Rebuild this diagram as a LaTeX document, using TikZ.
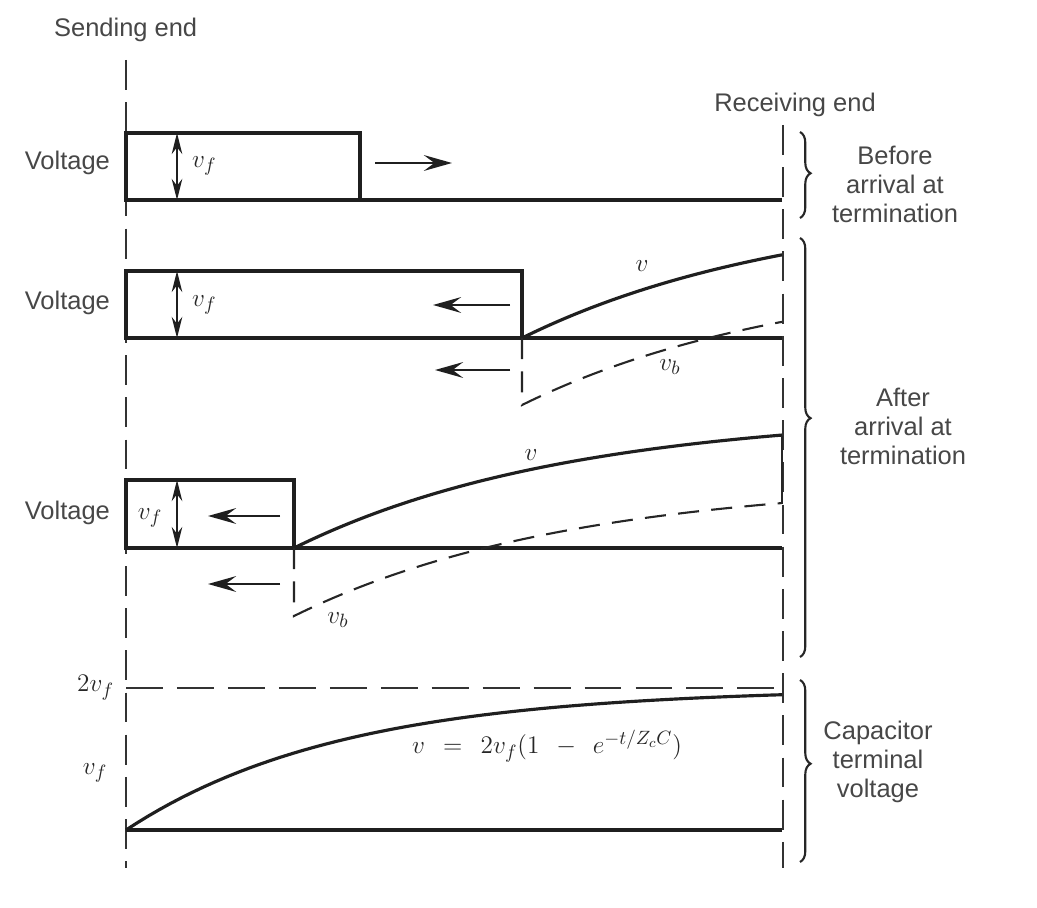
\documentclass[tikz,border=0pt]{standalone}
\usepackage{fontspec}
\setsansfont{Liberation Sans}
\usetikzlibrary{arrows.meta, decorations.pathreplacing, calc}

\begin{document}
\begin{tikzpicture}[
  x=0.02cm, y=-0.02cm,
  font=\sffamily\fontsize{14.5}{16.5}\selectfont,
  % text styles
  txt/.style={text=black!72, align=center, inner sep=1pt},
  lbl/.style={text=black!85, inner sep=1pt, font=\fontsize{15.5}{18}\selectfont},
  % line styles
  wave/.style={draw=black!88, line width=1.8pt, line join=miter},
  endline/.style={draw=black!80, line width=1.3pt, dash pattern=on 17pt off 7pt},
  twoline/.style={draw=black!80, line width=1.2pt, dash pattern=on 21pt off 8pt},
  refl/.style={draw=black!85, line width=1.2pt, dash pattern=on 12pt off 7pt},
  brc/.style={draw=black!85, line width=1.2pt, decorate},
  travel/.style={draw=black!88, line width=1.4pt, -{Stealth[length=16pt, width=9pt, inset=6pt]}},
  vfspan/.style={draw=black!88, line width=1.2pt, {Stealth[length=12pt, width=6pt]}-{Stealth[length=12pt, width=6pt]}}
]
  \useasboundingbox (0,0) rectangle (1037,908);

  % ==========================================
  % LINE ENDS
  % ==========================================
  \coordinate (send_top) at (126,60);
  \coordinate (send_bot) at (126,868);
  \coordinate (recv_top) at (783,125);
  \coordinate (recv_bot) at (783,868);
  \draw[endline] (send_top) -- (send_bot);
  \draw[endline] (recv_top) -- (recv_bot);

  \node[txt, anchor=west] (sending) at (52,30) {Sending end};
  \node[txt] (receiving) at (795,105) {Receiving end};

  % ==========================================
  % BEFORE ARRIVAL
  % ==========================================
  \coordinate (base1) at (126,200);
  \coordinate (front1) at (360,133);
  \draw[wave] (782,200) -- (base1) |- (front1) -- (front1 |- base1);
  \draw[vfspan] (177,133) -- (177,200);
  \node[lbl, anchor=west] (vf1) at (190,166) {$v_f$};
  \node[txt, anchor=east] (volt1) at (112,163) {Voltage};
  \coordinate (go1_a) at (375,163);
  \coordinate (go1_b) at (452,163);
  \draw[travel] (go1_a) -- (go1_b);

  % ==========================================
  % AFTER ARRIVAL (1)
  % ==========================================
  \coordinate (base2) at (126,338);
  \coordinate (front2) at (522,271);
  \draw[wave] (782,338) -- (base2) |- (front2) -- (front2 |- base2);
  \draw[wave] plot[domain=522:782, samples=50] (\x, {338-136*(1-exp(-(\x-522)/275))});
  \draw[refl] (front2 |- base2) -- (522,405) -- plot[domain=522:782, samples=50] (\x, {405-136*(1-exp(-(\x-522)/275))});
  \draw[vfspan] (177,271) -- (177,338);
  \node[lbl, anchor=west] (vf2) at (190,305) {$v_f$};
  \node[txt, anchor=east] (volt2) at (112,303) {Voltage};
  \node[lbl] (v2) at (642,266) {$v$};
  \node[lbl] (vb2) at (670,367) {$v_b$};
  \coordinate (go2_a) at (510,305);
  \coordinate (go2_b) at (433,305);
  \coordinate (back2_a) at (510,370);
  \coordinate (back2_b) at (435,370);
  \draw[travel] (go2_a) -- (go2_b);
  \draw[travel] (back2_a) -- (back2_b);

  % ==========================================
  % AFTER ARRIVAL (2)
  % ==========================================
  \coordinate (base3) at (126,548);
  \coordinate (front3) at (294,480);
  \draw[wave] (782,548) -- (base3) |- (front3) -- (front3 |- base3);
  \draw[wave] plot[domain=294:782, samples=60] (\x, {548-136*(1-exp(-(\x-294)/275))});
  \draw[refl] (front3 |- base3) -- (294,616) -- plot[domain=294:782, samples=60] (\x, {616-136*(1-exp(-(\x-294)/275))});
  \draw[draw=black!85, line width=1.2pt] (782,436) -- (782,504);
  \draw[vfspan] (177,480) -- (177,548);
  \node[lbl] (vf3) at (150,518) {$v_f$};
  \node[txt, anchor=east] (volt3) at (112,513) {Voltage};
  \node[lbl] (v3) at (531,455) {$v$};
  \node[lbl] (vb3) at (338,620) {$v_b$};
  \coordinate (go3_a) at (280,516);
  \coordinate (go3_b) at (208,516);
  \coordinate (back3_a) at (280,584);
  \coordinate (back3_b) at (208,584);
  \draw[travel] (go3_a) -- (go3_b);
  \draw[travel] (back3_a) -- (back3_b);

  % ==========================================
  % CAPACITOR VOLTAGE
  % ==========================================
  \coordinate (base4) at (126,830);
  \coordinate (top4) at (126,688);
  \draw[twoline] (top4) -- (782,688);
  \draw[wave] (base4) -- (782,830);
  \draw[wave] plot[domain=126:782, samples=60] (\x, {830-142*(1-exp(-(\x-126)/215))});
  \node[lbl, anchor=east] (twovf) at (116,688) {$2v_f$};
  \node[lbl] (vf4) at (95,773) {$v_f$};
  \node[lbl] (law) at (547,746) {$v \;\,=\;\, 2v_f(1 \;\,-\;\, e^{-t/Z_cC})$};

  % ==========================================
  % BRACES
  % ==========================================
  \draw[brc, decoration={brace, amplitude=6pt, aspect=0.48}] (800,132) -- (800,218);
  \draw[brc, decoration={brace, amplitude=6pt, aspect=0.43}] (800,238) -- (800,657);
  \draw[brc, decoration={brace, amplitude=6pt, aspect=0.46}] (800,680) -- (800,862);

  \node[txt] (before) at (895,184) {Before\\arrival at\\termination};
  \node[txt] (after) at (903,426) {After\\arrival at\\termination};
  \node[txt] (capv) at (878,762) {Capacitor\\terminal\\voltage};

\end{tikzpicture}
\end{document}
